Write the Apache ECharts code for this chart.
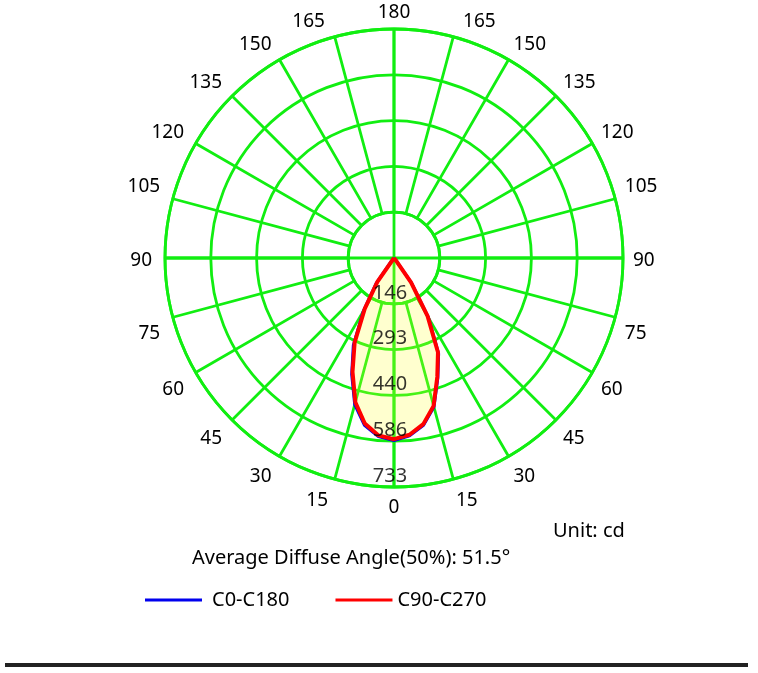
<!DOCTYPE html>
<html>
<head>
<meta charset="utf-8">
<script src="https://cdn.jsdelivr.net/npm/echarts@6/dist/echarts.min.js"></script>
<style>
html, body { margin: 0; padding: 0; background: #fff; }
#main { width: 758px; height: 673px; }
</style>
</head>
<body>
<div id="main"></div>
<script>
// gamma angles (deg) and luminous intensity (cd)
var gammaAngles = [0, 5, 10, 15, 20, 25, 30, 35, 40, 45, 60, 75, 90, 105, 120, 135, 150, 165, 180];
var c0Values   = [584, 571, 544, 494, 410, 338, 220, 98, 8, 0, 0, 0, 0, 0, 0, 0, 0, 0, 0];
var c180Values = [584, 574, 544, 486, 396, 308, 196, 100, 12, 0, 0, 0, 0, 0, 0, 0, 0, 0, 0];
var c90Values  = [580, 568, 540, 490, 405, 333, 215, 95, 6, 0, 0, 0, 0, 0, 0, 0, 0, 0, 0];
var c270Values = [580, 570, 538, 478, 388, 298, 187, 93, 8, 0, 0, 0, 0, 0, 0, 0, 0, 0, 0];

var ringValues = [146.6, 293.2, 439.8, 586.4, 733];
var ringLabels = ['146', '293', '440', '586', '733'];
var maxIntensity = 733;

var seriesNames = ['C0-C180', 'C90-C270'];
var unitText = 'Unit: cd';
var diffuseText = 'Average Diffuse Angle(50%): 51.5°';

var green = '#11ee11';
var font = 'Noto Sans';

// left half drawn with angle = gamma, right half with angle = 360 - gamma
function buildCurve(leftVals, rightVals) {
    var pts = [];
    for (var i = gammaAngles.length - 1; i >= 0; i--) {
        pts.push([leftVals[i], gammaAngles[i]]);
    }
    for (var j = 0; j < gammaAngles.length; j++) {
        pts.push([rightVals[j], 360 - gammaAngles[j]]);
    }
    return pts;
}

var ringData = [];
for (var k = 0; k < ringValues.length; k++) {
    ringData.push([ringValues[k], 0]);
}

// per-label padding / line height so the angle labels sit like the original ones
function labelBox(v) {
    var left = v < 180;
    var g = v <= 180 ? v : 360 - v;
    var pad = [0, 0, 0, 0];
    var lh = 20;
    if (g === 0) lh = 22;
    else if (g === 180) lh = 12;
    else if (g === 15) pad = left ? [3, 30, 0, 0] : [3, 0, 0, 22];
    else if (g === 165) { lh = 12; pad = left ? [0, 47, 0, 0] : [0, 0, 0, 47]; }
    else if (g <= 60) pad = [4, 0, 0, 0];
    else if (g === 75) pad = [28, 0, 0, 0];
    else if (g === 90) pad = [6, 0, 0, 0];
    else if (g === 105) pad = [0, 0, 20, 0];
    else lh = 12;
    if (left && g >= 30 && g <= 150) pad[1] += 3;
    return { padding: pad, lineHeight: lh };
}
var tickRich = {};
for (var a = 0; a < 360; a += 15) {
    var box = labelBox(a);
    tickRich['a' + a] = {
        fontSize: 19, fontFamily: font, color: '#000',
        lineHeight: box.lineHeight, padding: box.padding
    };
}
function angleLabel(v) {
    if (v === 360) return '';
    var txt = v <= 180 ? v : 360 - v;
    return '{a' + v + '|' + txt + '}';
}

var myChart = echarts.init(document.getElementById('main'));
var center = [394, 258];

var option = {
    animation: false,
    backgroundColor: '#fff',
    textStyle: { fontFamily: font },
    polar: [
        { center: center, radius: [45.8, 229] },
        { center: center, radius: [0, 229] }
    ],
    angleAxis: [{
        polarIndex: 0,
        type: 'value',
        min: 0,
        max: 360,
        interval: 15,
        startAngle: 270,
        clockwise: true,
        axisLine: { show: true, lineStyle: { color: green, width: 2.8 } },
        axisTick: { show: false },
        splitLine: { show: true, lineStyle: { color: green, width: 2.8 } },
        axisLabel: {
            margin: 10,
            color: '#000',
            fontSize: 19,
            fontFamily: font,
            rich: tickRich,
            formatter: angleLabel
        }
    }, {
        polarIndex: 1,
        type: 'value',
        min: 0,
        max: 360,
        interval: 90,
        startAngle: 270,
        clockwise: true,
        axisLine: { show: false },
        axisTick: { show: false },
        axisLabel: { show: false },
        splitLine: { show: true, lineStyle: { color: green, width: 2.8 } }
    }],
    radiusAxis: [{
        polarIndex: 0,
        type: 'value',
        min: 0,
        max: 4,
        interval: 1,
        axisLine: { show: false },
        axisTick: { show: false },
        axisLabel: { show: false },
        splitLine: { show: true, lineStyle: { color: green, width: 2.8 } }
    }, {
        polarIndex: 1,
        type: 'value',
        min: 0,
        max: maxIntensity,
        axisLine: { show: false },
        axisTick: { show: false },
        axisLabel: { show: false },
        splitLine: { show: false }
    }],
    legend: {
        data: [
            { name: seriesNames[0], textStyle: { padding: [0, 0, 0, 5] } },
            { name: seriesNames[1] }
        ],
        left: 140,
        top: 585,
        icon: 'rect',
        itemWidth: 57,
        itemHeight: 3,
        itemGap: 46,
        textStyle: { fontSize: 20, color: '#000', fontFamily: font }
    },
    graphic: [{
        type: 'text',
        left: 553,
        top: 521,
        style: { text: unitText, fontSize: 20, fontFamily: font, fill: '#000' }
    }, {
        type: 'text',
        left: 192,
        top: 548,
        style: { text: diffuseText, fontSize: 20, fontFamily: font, fill: '#000' }
    }, {
        type: 'rect',
        shape: { x: 5, y: 663, width: 743, height: 4 },
        style: { fill: '#222' }
    }],
    series: [{
        name: seriesNames[0],
        type: 'line',
        coordinateSystem: 'polar',
        polarIndex: 1,
        symbol: 'none',
        color: '#0000ee',
        lineStyle: { color: '#0000ee', width: 3 },
        areaStyle: { color: 'rgba(255,255,40,0.32)' },
        data: buildCurve(c180Values, c0Values),
        z: 3
    }, {
        name: seriesNames[1],
        type: 'line',
        coordinateSystem: 'polar',
        polarIndex: 1,
        symbol: 'none',
        color: '#ff0000',
        lineStyle: { color: '#ff0000', width: 4 },
        data: buildCurve(c270Values, c90Values),
        z: 4
    }, {
        name: 'rings',
        type: 'scatter',
        coordinateSystem: 'polar',
        polarIndex: 1,
        symbolSize: 0,
        silent: true,
        data: ringData,
        label: {
            show: true,
            position: 'top',
            distance: 1,
            offset: [-4, 0],
            color: '#000',
            fontSize: 20,
            fontFamily: font,
            formatter: function (p) { return ringLabels[p.dataIndex]; }
        },
        z: 5
    }]
};
myChart.setOption(option);
</script>
</body>
</html>
